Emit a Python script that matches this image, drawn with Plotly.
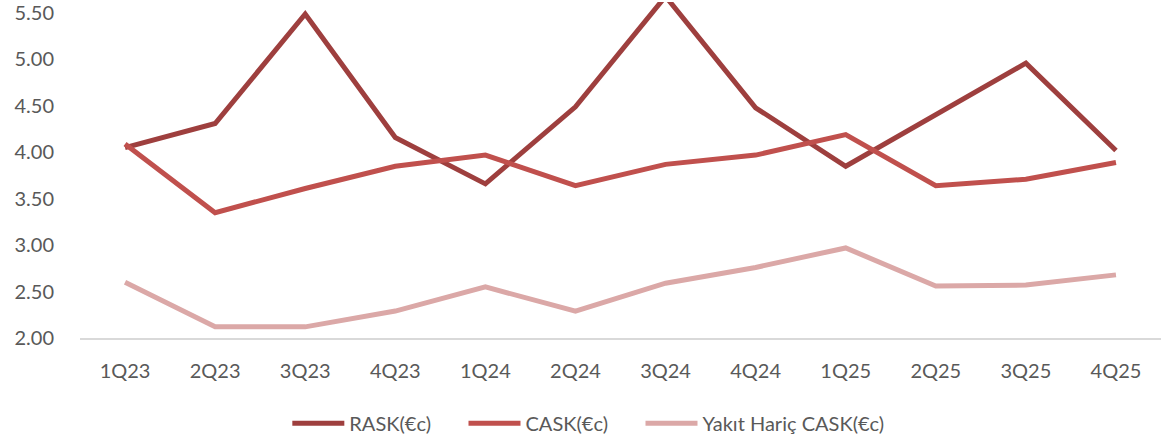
import plotly.graph_objects as go

quarters = ["1Q23", "2Q23", "3Q23", "4Q23", "1Q24", "2Q24", "3Q24", "4Q24", "1Q25", "2Q25", "3Q25", "4Q25"]
rask = [4.05, 4.31, 5.49, 4.16, 3.66, 4.49, 5.68, 4.48, 3.85, 4.41, 4.96, 4.02]
cask = [4.09, 3.35, 3.61, 3.85, 3.97, 3.64, 3.87, 3.97, 4.19, 3.64, 3.71, 3.89]
cask_ex_fuel = [2.60, 2.12, 2.12, 2.29, 2.55, 2.29, 2.59, 2.76, 2.97, 2.56, 2.57, 2.68]
tick_vals = [2.0, 2.5, 3.0, 3.5, 4.0, 4.5, 5.0, 5.5]
series_names = ["RASK(€c)", "CASK(€c)", "Yakıt Hariç CASK(€c)"]
series_colors = ["#9E3F3E", "#C0504D", "#DBA8A7"]
series_values = [rask, cask, cask_ex_fuel]

fig = go.Figure()
for i, (name, vals, color) in enumerate(zip(series_names, series_values, series_colors)):
    # extra spacing after legend text (not after the last entry)
    label = name if i == len(series_names) - 1 else name + "\u2003\u2002\u2009"
    fig.add_trace(go.Scatter(
        x=quarters, y=vals, name=label, mode="lines",
        line=dict(color=color, width=5),
        hovertemplate="%{x}: %{y:.2f}<extra>" + name + "</extra>",
    ))

font_family = "Lato, 'Open Sans', sans-serif"
fig.update_layout(
    width=1165, height=444,
    margin=dict(l=80, r=4, t=0, b=106),
    paper_bgcolor="white", plot_bgcolor="white",
    font=dict(family=font_family, color="#595959", size=20),
    showlegend=True,
    legend=dict(
        orientation="h", xref="container", x=0.505, xanchor="center",
        yref="container", y=0.047, yanchor="middle",
        font=dict(size=20, color="#595959"),
        itemwidth=52, tracegroupgap=0,
    ),
    xaxis=dict(
        type="category", range=[-0.5, 11.5],
        showgrid=False, zeroline=False,
        showline=True, linecolor="#D9D9D9", linewidth=1.5,
        ticks="", ticklabelstandoff=14,
        tickfont=dict(size=20, color="#595959"),
    ),
    yaxis=dict(
        range=[2.0, 5.619], showgrid=False, zeroline=False, showline=False,
        tickvals=tick_vals, tickformat=".2f", ticks="",
        ticklabelstandoff=25, ticklabeloverflow="allow",
        tickfont=dict(size=20, color="#595959"),
    ),
)

fig.write_html(
    "out.html",
    config={"displayModeBar": False},
    post_script="document.body.style.margin='0';document.body.style.overflow='hidden';",
)
